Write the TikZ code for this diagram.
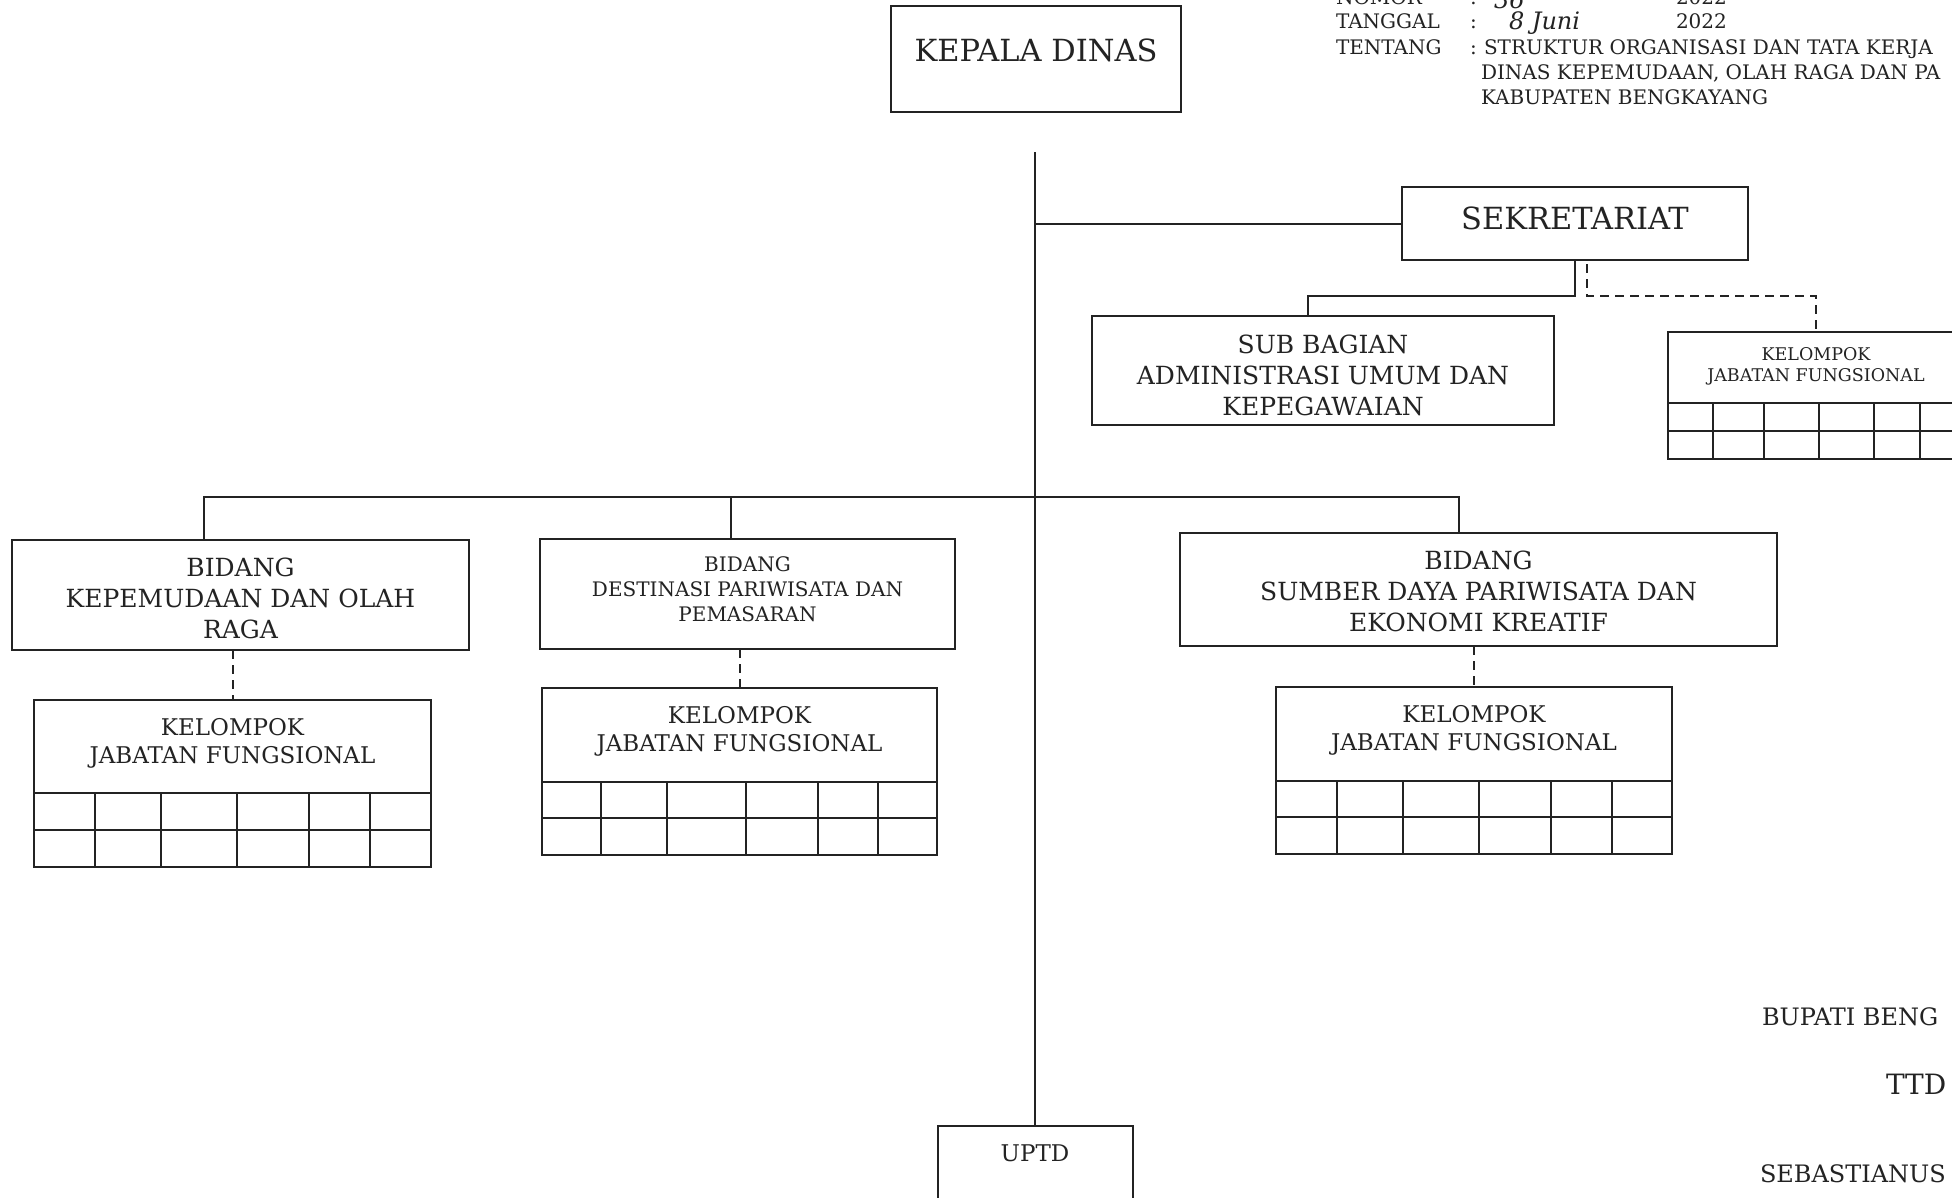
\documentclass[tikz,border=0pt]{standalone}
\usepackage{fontspec}
\setmainfont{DejaVu Serif}
\usetikzlibrary{calc}
\definecolor{ink}{RGB}{35,35,35}
\tikzset{
 ln/.style={draw=ink, line width=2pt},
 dsh/.style={draw=ink, line width=2pt, dash pattern=on 9pt off 6pt},
 box/.style={draw=ink, line width=2pt, inner sep=0pt, outer sep=0pt},
 txt/.style={inner sep=0pt, outer sep=0pt, align=center, text=ink},
 plain/.style={inner sep=0pt, outer sep=0pt, text=ink, anchor=base west},
 fA/.style={font=\fontsize{30.5}{36}\selectfont},
 fB/.style={font=\fontsize{25}{31}\selectfont},
 fC/.style={font=\fontsize{20}{25}\selectfont},
 fK/.style={font=\fontsize{23}{28}\selectfont},
 fS/.style={font=\fontsize{17.5}{21}\selectfont},
 fH/.style={font=\fontsize{20}{25}\selectfont},
 fR/.style={font=\fontsize{24}{28}\selectfont},
 fT/.style={font=\fontsize{28}{32}\selectfont},
}
\newcommand\kgrid[4]{%
 \draw[ln] (#1.south west) -- (#1.south west |- 0,#3) -- (#1.south east |- 0,#3) -- (#1.south east);
 \draw[ln] (#1.west |- 0,#2) -- (#1.east |- 0,#2);
 \foreach \cx in {#4} \draw[ln] (\cx,0 |- #1.south) -- (\cx,#3);
}
\begin{document}
\begin{tikzpicture}[x=1pt,y=-1pt]
\fill[white] (0,0) rectangle (1952,1197);
\useasboundingbox (0,0) rectangle (1952,1197);

% boxes
\node[box,minimum width=290pt,minimum height=106pt] (kd) at (1036,59) {};
\node[txt,fA] (kdt) at ($(kd.center)+(0,-9)$) {KEPALA DINAS};
\node[box,minimum width=346pt,minimum height=73pt] (sek) at (1575,223.5) {};
\node[txt,fA] (sekt) at ($(sek.center)+(0,-5)$) {SEKRETARIAT};
\node[box,minimum width=462pt,minimum height=109pt] (sub) at (1323,370.5) {};
\node[txt,fB] (subt) at ($(sub.center)+(0,5)$) {SUB BAGIAN\\ADMINISTRASI UMUM DAN\\KEPEGAWAIAN};
\node[box,minimum width=296pt,minimum height=71pt] (k0) at (1816,367.5) {};
\node[txt,fS] (k0t) at ($(k0.center)+(0,-1)$) {KELOMPOK\\JABATAN FUNGSIONAL};
\node[box,minimum width=457pt,minimum height=110pt] (b1) at (240.5,595) {};
\node[txt,fB] (b1t) at ($(b1.center)+(0,3)$) {BIDANG\\KEPEMUDAAN DAN OLAH\\RAGA};
\node[box,minimum width=415pt,minimum height=110pt] (b2) at (747.5,594) {};
\node[txt,fC] (b2t) at ($(b2.center)+(0,-5)$) {BIDANG\\DESTINASI PARIWISATA DAN\\PEMASARAN};
\node[box,minimum width=597pt,minimum height=113pt] (b3) at (1478.5,589.5) {};
\node[txt,fB] (b3t) at ($(b3.center)+(0,2)$) {BIDANG\\SUMBER DAYA PARIWISATA DAN\\EKONOMI KREATIF};
\node[box,minimum width=397pt,minimum height=93pt] (k1) at (232.5,746.5) {};
\node[txt,fK] (k1t) at ($(k1.center)+(0,-3)$) {KELOMPOK\\JABATAN FUNGSIONAL};
\node[box,minimum width=395pt,minimum height=94pt] (k2) at (739.5,735) {};
\node[txt,fK] (k2t) at ($(k2.center)+(0,-4)$) {KELOMPOK\\JABATAN FUNGSIONAL};
\node[box,minimum width=396pt,minimum height=94pt] (k3) at (1474,734) {};
\node[txt,fK] (k3t) at ($(k3.center)+(0,-4)$) {KELOMPOK\\JABATAN FUNGSIONAL};
\node[box,minimum width=195pt,minimum height=100pt] (uptd) at (1035,1176) {};
\node[plain,fK,anchor=base] (uptdt) at (1035,1161) {UPTD};

% grids
\kgrid{k1}{830}{867}{95,161,237,309,370}
\kgrid{k2}{818}{855}{601,667,746,818,878}
\kgrid{k3}{817}{854}{1337,1403,1479,1551,1612}
\kgrid{k0}{431}{459}{1713,1764,1819,1874,1920}

% connectors
\coordinate (ltop) at (1035,152);
\draw[ln] (ltop) -- (uptd.north);
\draw[ln] (ltop |- sek.west) -- (sek.west);
\coordinate (j1) at (1308,296);
\draw[ln] (sek.south) |- (j1) -- (j1 |- sub.north);
\coordinate (j2) at (1587,264);
\draw[dsh] (j2) |- (k0.north |- j1) -- (k0.north);
\coordinate (d1) at (204,497);
\coordinate (d2) at (731,497);
\coordinate (d3) at (1459,497);
\draw[ln] (d1 |- b1.north) -- (d1) -- (d3) -- (d3 |- b3.north);
\draw[ln] (d2) -- (d2 |- b2.north);
\draw[dsh] (k1.north |- b1.south) -- (k1.north);
\draw[dsh] (k2.north |- b2.south) -- (k2.north);
\draw[dsh] (k3.north |- b3.south) -- (k3.north);

% header
\node[plain,fH] (hn) at (1336,4) {NOMOR};
\node[plain,fH] (hnc) at (1470,4) {:};
\node[plain,fR] (hnn) at (1494,8) {\itshape 36};
\node[plain,fH] (hny) at (1676,4) {2022};
\node[plain,fH] (ht) at (1336,28) {TANGGAL};
\node[plain,fH] (htc) at (1470,28) {:};
\node[plain,fR] (htd) at (1509,29) {\itshape 8 Juni};
\node[plain,fH] (hty) at (1676,28) {2022};
\node[plain,fH] (hte) at (1336,54) {TENTANG};
\node[plain,fH] (htec) at (1470,54) {:};
\node[plain,fH] (h1) at (1484,54) {STRUKTUR ORGANISASI DAN TATA KERJA};
\node[plain,fH] (h2) at (1481,79) {DINAS KEPEMUDAAN, OLAH RAGA DAN PA};
\node[plain,fH] (h3) at (1481,104) {KABUPATEN BENGKAYANG};

% signature
\node[plain,fR] (bp) at (1762,1025) {BUPATI BENG};
\node[plain,fT] (ttd) at (1886,1094) {TTD};
\node[plain,fR] (seb) at (1760,1182) {SEBASTIANUS};
\end{tikzpicture}
\end{document}
